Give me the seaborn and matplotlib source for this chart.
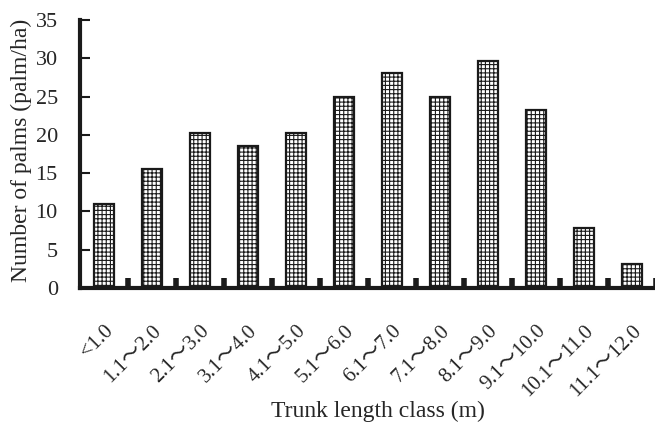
import matplotlib
matplotlib.use("Agg")
import matplotlib.pyplot as plt
import matplotlib.transforms as mtransforms
import seaborn as sns
import pandas as pd

categories = ["<1.0", "1.1～2.0", "2.1～3.0", "3.1～4.0", "4.1～5.0", "5.1～6.0",
              "6.1～7.0", "7.1～8.0", "8.1～9.0", "9.1～10.0", "10.1～11.0", "11.1～12.0"]
values = [11.0, 15.5, 20.2, 18.6, 20.2, 24.9, 28.1, 24.9, 29.6, 23.3, 7.8, 3.1]
y_ticks = [0, 5, 10, 15, 20, 25, 30, 35]

sns.set_style("white")
plt.rcParams['font.family'] = ['Liberation Serif', 'Noto Sans CJK JP', 'DejaVu Serif']
plt.rcParams['hatch.color'] = '#b4b4b4'
plt.rcParams['hatch.linewidth'] = 0.8

df = pd.DataFrame({"cls": categories, "n": values})

fig = plt.figure(figsize=(6.55, 4.23), dpi=100)
ax = fig.add_axes([80/655, (423-288)/423, (656-80)/655, (288-20)/423])
sns.barplot(data=df, x="cls", y="n", ax=ax, color="white", width=0.41,
            edgecolor="#1a1a1a", linewidth=1.6, hatch="++++")

ax.set_xlim(-0.5, 11.5)
ax.set_ylim(0, 35)
ax.set_yticks(y_ticks)
ax.set_yticklabels([str(t) for t in y_ticks], fontsize=16)
ax.set_xticks([i + 0.5 for i in range(12)], minor=False)
ax.set_xticklabels([])
ax.set_xticks(range(12), minor=True)
ax.set_xticklabels(categories, minor=True, rotation=45, ha="right", va="top",
                   rotation_mode="anchor", fontsize=15)
offset = mtransforms.ScaledTranslation(-13/100, 0, fig.dpi_scale_trans)
for lbl in ax.get_xticklabels(minor=True):
    lbl.set_transform(lbl.get_transform() + offset)
ax.tick_params(axis="x", which="minor", bottom=True, length=0, pad=24)
ax.tick_params(axis="x", which="major", bottom=True, direction="in", length=7, width=4,
               color="#1a1a1a")
ax.tick_params(axis="y", left=True, direction="in", length=7, width=1.5,
               color="#1a1a1a", pad=16)
for t in ax.xaxis.get_major_ticks():
    t.tick1line.set_clip_on(False)
for s in ["top", "right"]:
    ax.spines[s].set_visible(False)
for s in ["left", "bottom"]:
    ax.spines[s].set_linewidth(3)
    ax.spines[s].set_color("#1a1a1a")
ax.set_xlabel("Trunk length class (m)", fontsize=17)
ax.set_ylabel("Number of palms (palm/ha)", fontsize=17)
ax.xaxis.set_label_coords(0.517, -0.42)
ax.yaxis.set_label_coords(-0.083, 0.515)

fig.savefig("out.png", dpi=100)
